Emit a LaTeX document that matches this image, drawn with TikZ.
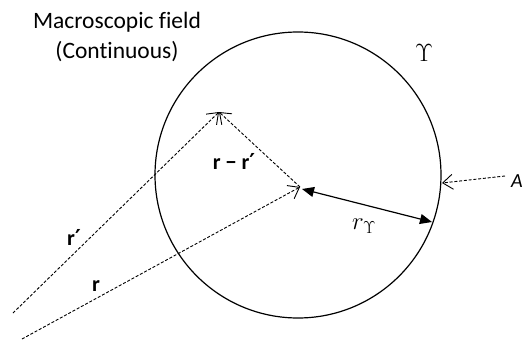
\documentclass[tikz,border=0pt]{standalone}
\usepackage{fontspec}
\newfontfamily\cfont[Ligatures=NoCommon]{Carlito}
\newfontfamily\dfont{DejaVu Sans}
\newcommand{\prm}{{\dfont\bfseries\fontsize{22}{26}\selectfont ′}}
\usetikzlibrary{arrows.meta}
\begin{document}
\begin{tikzpicture}[x=1pt,y=-1pt,
  dsh/.style={line width=0.9pt,dash pattern=on 3pt off 1.8pt},
  vtip/.style={-{Straight Barb[length=10pt,width=15pt,line width=0.9pt]}},
  txt/.style={inner sep=0pt,font=\cfont\fontsize{23.5}{28}\selectfont},
  lbl/.style={inner sep=0pt,font=\cfont\bfseries\fontsize{22}{26}\selectfont},
  mth/.style={inner sep=0pt,font=\fontsize{25}{30}\selectfont}]
\useasboundingbox (0,0) rectangle (528,340);
\node[draw,circle,line width=1.2pt,minimum size=286pt,inner sep=0pt] (region) at (298,175) {};
\coordinate (O) at (300,187);
\coordinate (P) at (219,112);
\coordinate (S1) at (13,313);
\coordinate (S2) at (22,339);
\coordinate (R1) at (302,189);
\coordinate (R2) at (432,222);
\coordinate (B) at (442,183);
\node[txt,anchor=base] (title1) at (117,28) {Macroscopic field};
\node[txt,anchor=base] (title2) at (117,58) {(Continuous)};
\node[mth] (ups) at (424,53) {$\Upsilon$};
\node[txt,font=\cfont\itshape\fontsize{20}{24}\selectfont,anchor=west] (A) at (511,181) {A};
\coordinate (A0) at (505,176);
\draw[dsh,vtip] (S1) -- (P);
\draw[dsh,vtip] (O) -- (P);
\draw[dsh,vtip] (S2) -- (O);
\draw[dsh,vtip] (A0) -- (B);
\draw[line width=1.2pt,{Triangle[length=12pt,width=10pt]}-{Triangle[length=12pt,width=10pt]}] (R1) -- (R2);
\node[lbl] (rmr) at (234,161) {r − r\prm};
\node[lbl] (rp) at (74,237) {r\prm};
\node[lbl] (r) at (96,286) {r};
\node[mth] (ru) at (364,226) {$r_\Upsilon$};
\end{tikzpicture}
\end{document}
